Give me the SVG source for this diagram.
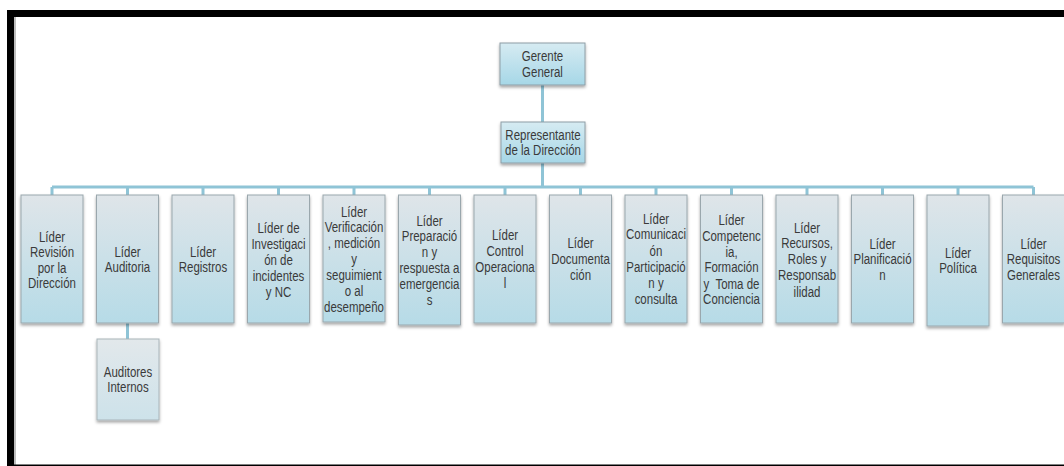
<svg xmlns="http://www.w3.org/2000/svg" width="1064" height="466" viewBox="0 0 1064 466">
<defs>
<linearGradient id="gTop" x1="0" y1="0" x2="0" y2="1">
<stop offset="0" stop-color="#d6ebf2"/><stop offset="1" stop-color="#a6d7e7"/>
</linearGradient>
<linearGradient id="gRow" x1="0" y1="0" x2="0" y2="1">
<stop offset="0" stop-color="#dfe5e9"/><stop offset="1" stop-color="#b6dbe7"/>
</linearGradient>
<linearGradient id="gSub" x1="0" y1="0" x2="0" y2="1">
<stop offset="0" stop-color="#e2e8eb"/><stop offset="1" stop-color="#cde2ea"/>
</linearGradient>
<filter id="sh" x="-20%" y="-20%" width="140%" height="140%">
<feDropShadow dx="0" dy="2" stdDeviation="1.5" flood-color="#000" flood-opacity="0.35"/>
</filter>
</defs>
<style>
.top{fill:url(#gTop);stroke:#8e9ea6;stroke-width:1;filter:url(#sh)}
.row{fill:url(#gRow);stroke:#9aa7ad;stroke-width:1;filter:url(#sh)}
.sub{fill:url(#gSub);stroke:#a9b5ba;stroke-width:1;filter:url(#sh)}
text{font-family:"Liberation Sans Narrow","Liberation Sans",Arial,sans-serif;font-size:14px;fill:#3a3a3a;text-anchor:middle}
.c{fill:none;stroke:#8fc4d6;stroke-width:3}
</style>
<rect x="0" y="0" width="1064" height="466" fill="#fff"/>
<rect x="14" y="17" width="2" height="449" fill="#bdbdbd"/>
<rect x="7" y="10" width="1057" height="7" fill="#000"/>
<rect x="7" y="10" width="7" height="456" fill="#000"/>
<rect x="7" y="464.5" width="1057" height="1.5" fill="#000"/>
<g id="connectors">
<path class="c" d="M542.5 85 V122 M542.5 163 V187 M52 187 H1033.5 M52 187 V195 M127.5 187 V195 M203 187 V195 M278.5 187 V195 M354 187 V195 M429.5 187 V195 M505 187 V195 M580.5 187 V195 M656 187 V195 M731.5 187 V195 M807 187 V195 M882.5 187 V195 M958 187 V195 M1033.5 187 V195 M127.5 323 V339"/>
</g>
<g id="gerente"><rect class="top" x="500" y="43" width="85" height="42"/>
<g transform="translate(542.5 0) scale(0.82 1)"><text x="0" y="61.5">Gerente</text><text x="0" y="77">General</text></g></g>
<g id="representante"><rect class="top" x="501" y="122" width="84" height="41"/>
<g transform="translate(543 0) scale(0.82 1)"><text x="0" y="140">Representante</text><text x="0" y="155.5">de la Dirección</text></g></g>
<g id="n1"><rect class="row" x="21" y="195" width="62" height="128"/>
<g transform="translate(52 0) scale(0.82 1)"><text x="0" y="242">Líder</text><text x="0" y="257.5">Revisión</text><text x="0" y="273">por la</text><text x="0" y="288.5">Dirección</text></g></g>
<g id="n2"><rect class="row" x="96.5" y="195" width="62" height="128"/>
<g transform="translate(127.5 0) scale(0.82 1)"><text x="0" y="257">Líder</text><text x="0" y="272.5">Auditoria</text></g></g>
<g id="n3"><rect class="row" x="172" y="195" width="62" height="128"/>
<g transform="translate(203 0) scale(0.82 1)"><text x="0" y="257">Líder</text><text x="0" y="272.5">Registros</text></g></g>
<g id="n4"><rect class="row" x="247.5" y="195" width="62" height="128"/>
<g transform="translate(278.5 0) scale(0.82 1)"><text x="0" y="233">Líder de</text><text x="0" y="249">Investigaci</text><text x="0" y="265">ón de</text><text x="0" y="281">incidentes</text><text x="0" y="297">y NC</text></g></g>
<g id="n5"><rect class="row" x="323" y="195" width="62" height="127"/>
<g transform="translate(354 0) scale(0.82 1)"><text x="0" y="217">Líder</text><text x="0" y="232.5">Verificación</text><text x="0" y="248.5">, medición</text><text x="0" y="264.5">y</text><text x="0" y="280.5">seguimient</text><text x="0" y="296.5">o al</text><text x="0" y="312.5">desempeño</text></g></g>
<g id="n6"><rect class="row" x="398.5" y="195" width="62" height="130"/>
<g transform="translate(429.5 0) scale(0.82 1)"><text x="0" y="226">Líder</text><text x="0" y="241.5">Preparació</text><text x="0" y="257.5">n y</text><text x="0" y="273.5">respuesta a</text><text x="0" y="289.5">emergencia</text><text x="0" y="305.5">s</text></g></g>
<g id="n7"><rect class="row" x="474" y="195" width="62" height="128"/>
<g transform="translate(505 0) scale(0.82 1)"><text x="0" y="240">Líder</text><text x="0" y="256">Control</text><text x="0" y="272">Operaciona</text><text x="0" y="288">l</text></g></g>
<g id="n8"><rect class="row" x="549.5" y="195" width="62" height="128"/>
<g transform="translate(580.5 0) scale(0.82 1)"><text x="0" y="248">Líder</text><text x="0" y="264">Documenta</text><text x="0" y="280">ción</text></g></g>
<g id="n9"><rect class="row" x="625" y="195" width="62" height="128"/>
<g transform="translate(656 0) scale(0.82 1)"><text x="0" y="224">Líder</text><text x="0" y="239.5">Comunicaci</text><text x="0" y="256">ón</text><text x="0" y="272">Participació</text><text x="0" y="288">n y</text><text x="0" y="304">consulta</text></g></g>
<g id="n10"><rect class="row" x="700.5" y="195" width="62" height="128"/>
<g transform="translate(731.5 0) scale(0.82 1)"><text x="0" y="225">Líder</text><text x="0" y="241">Competenc</text><text x="0" y="257">ia,</text><text x="0" y="272.5">Formación</text><text x="0" y="289" xml:space="preserve">y  Toma de</text><text x="0" y="304.5">Conciencia</text></g></g>
<g id="n11"><rect class="row" x="776" y="195" width="62" height="128"/>
<g transform="translate(807 0) scale(0.82 1)"><text x="0" y="233">Líder</text><text x="0" y="248">Recursos,</text><text x="0" y="264">Roles y</text><text x="0" y="280">Responsab</text><text x="0" y="297">ilidad</text></g></g>
<g id="n12"><rect class="row" x="851.5" y="195" width="62" height="128"/>
<g transform="translate(882.5 0) scale(0.82 1)"><text x="0" y="249">Líder</text><text x="0" y="264">Planificació</text><text x="0" y="280">n</text></g></g>
<g id="n13"><rect class="row" x="927" y="195" width="62" height="131"/>
<g transform="translate(958 0) scale(0.82 1)"><text x="0" y="258">Líder</text><text x="0" y="273">Política</text></g></g>
<g id="n14"><rect class="row" x="1002.5" y="195" width="62" height="128"/>
<g transform="translate(1033.5 0) scale(0.82 1)"><text x="0" y="249">Líder</text><text x="0" y="264">Requisitos</text><text x="0" y="280">Generales</text></g></g>
<g id="n15"><rect class="sub" x="97" y="339" width="62" height="81"/>
<g transform="translate(128 0) scale(0.82 1)"><text x="0" y="377">Auditores</text><text x="0" y="392.5">Internos</text></g></g>
</svg>
